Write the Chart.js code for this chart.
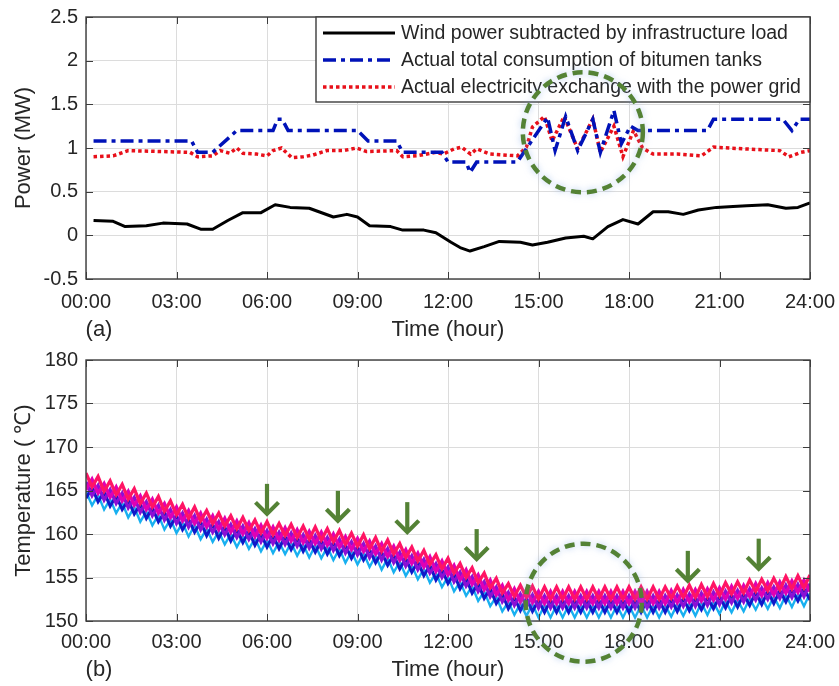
<!DOCTYPE html>
<html><head><meta charset="utf-8">
<script src="https://cdn.jsdelivr.net/npm/chart.js@4.4.1/dist/chart.umd.min.js"></script>
<style>
html,body{margin:0;padding:0;background:#fff;}
canvas{display:block;}
</style></head><body>
<canvas id="c1" width="839" height="343"></canvas>
<canvas id="c2" width="839" height="343"></canvas>
<script>
// ---------- tick labels ----------
const timeTickLabels = ['00:00','03:00','06:00','09:00','12:00','15:00','18:00','21:00','24:00'];
const seriesNames = ['Wind power subtracted by infrastructure load','Actual total consumption of bitumen tanks','Actual electricity exchange with the power grid'];

// ---------- panel (a) ----------
const windHours = [0.25,0.9,1.3,2.0,2.55,3.35,3.8,4.2,4.7,5.2,5.8,6.27,6.77,7.4,8.2,8.65,9.0,9.4,10.1,10.5,11.2,11.6,12.1,12.4,12.73,13.2,13.7,14.4,14.8,15.3,15.9,16.5,16.8,17.3,17.8,18.3,18.8,19.3,19.8,20.3,20.9,21.45,21.9,22.6,23.2,23.6,24];
const windPower = [0.17,0.16,0.10,0.11,0.14,0.13,0.07,0.07,0.17,0.26,0.26,0.35,0.32,0.31,0.21,0.24,0.21,0.11,0.10,0.06,0.06,0.03,-0.08,-0.14,-0.18,-0.13,-0.07,-0.08,-0.11,-0.08,-0.03,-0.01,-0.04,0.10,0.18,0.13,0.27,0.27,0.24,0.29,0.32,0.33,0.34,0.35,0.31,0.32,0.37];

const tankHours = [0.25,3.5,3.7,4.2,5.0,6.2,6.35,6.5,6.7,9.0,9.35,10.3,10.5,11.8,12.0,12.6,12.73,12.95,14.3,15.3,15.55,15.9,16.3,16.8,17.05,17.5,17.75,18.05,18.3,20.6,20.8,23.1,23.4,23.65,24];
const tankPower = [1.08,1.08,0.95,0.95,1.2,1.2,1.33,1.33,1.2,1.2,1.08,1.08,0.95,0.95,0.84,0.84,0.72,0.84,0.84,1.35,0.97,1.36,0.97,1.33,0.95,1.43,1.05,1.25,1.2,1.2,1.33,1.33,1.2,1.33,1.33];

const gridHours = [0.25,0.9,1.4,2.5,3.45,3.7,4.2,4.45,4.77,5.0,5.2,5.66,6.0,6.2,6.48,6.82,7.2,7.53,7.98,8.53,8.97,9.3,10.3,10.5,10.96,11.6,11.84,12.2,12.45,12.75,12.95,13.4,14.3,14.6,14.8,15.2,15.45,15.85,16.3,16.8,17.05,17.5,17.8,18.15,18.45,18.8,19.6,20.4,20.8,21.8,23.0,23.3,23.7,24];
const gridPower = [0.90,0.91,0.97,0.96,0.95,0.90,0.91,0.97,0.94,1.00,0.94,0.93,0.91,0.97,1.00,0.89,0.90,0.92,0.97,0.97,1.00,0.96,0.97,0.90,0.91,0.95,0.93,0.99,1.01,0.93,0.99,0.93,0.91,1.01,1.24,1.36,1.08,1.36,0.99,1.33,0.95,1.25,0.90,1.20,1.00,0.93,0.93,0.91,1.01,0.99,0.97,0.90,0.95,0.97];

// ---------- panel (b) ----------
const tempHours = [0,0.2,0.4,0.6,0.8,1,1.2,1.4,1.6,1.8,2,2.2,2.4,2.6,2.8,3,3.2,3.4,3.6,3.8,4,4.2,4.4,4.6,4.8,5,5.2,5.4,5.6,5.8,6,6.2,6.4,6.6,6.8,7,7.2,7.4,7.6,7.8,8,8.2,8.4,8.6,8.8,9,9.2,9.4,9.6,9.8,10,10.2,10.4,10.6,10.8,11,11.2,11.4,11.6,11.8,12,12.2,12.4,12.6,12.8,13,13.2,13.4,13.6,13.8,14,14.2,14.4,14.6,14.8,15,15.2,15.4,15.6,15.8,16,16.2,16.4,16.6,16.8,17,17.2,17.4,17.6,17.8,18,18.2,18.4,18.6,18.8,19,19.2,19.4,19.6,19.8,20,20.2,20.4,20.6,20.8,21,21.2,21.4,21.6,21.8,22,22.2,22.4,22.6,22.8,23,23.2,23.4,23.6,23.8,24];
const tempRed = [167.0,165.4,166.6,164.9,166.1,164.5,165.7,164.0,165.2,163.5,
164.7,163.1,164.3,162.6,163.8,162.2,163.4,161.8,163.1,161.5,
162.7,161.2,162.4,160.9,162.1,160.6,161.9,160.4,161.6,160.1,
161.4,159.9,161.2,159.8,161.1,159.6,160.9,159.4,160.8,159.3,
160.6,159.1,160.4,158.8,160.1,158.6,159.9,158.3,159.6,158.0,
159.3,157.7,158.9,157.3,158.5,156.9,158.1,156.5,157.6,156.0,
157.2,155.5,156.6,155.0,156.1,154.4,155.5,153.8,154.9,153.2,
154.3,152.8,154.1,152.7,154.0,152.5,153.9,152.5,153.9,152.5,
153.9,152.5,153.9,152.5,153.9,152.5,153.9,152.5,153.9,152.5,
153.9,152.5,153.9,152.5,153.9,152.5,153.9,152.6,154.0,152.7,
154.1,152.7,154.2,152.8,154.3,152.9,154.4,153.1,154.5,153.2,
154.7,153.4,154.8,153.5,154.9,153.6,155.1,153.7,155.2,153.8,
155.3];
const tempMagenta = [165.1,166.3,164.7,165.8,164.2,165.4,163.8,164.9,163.3,164.4,
162.8,164.0,162.4,163.5,161.9,163.1,161.5,162.7,161.2,162.4,
160.8,162.1,160.5,161.8,160.2,161.5,160.0,161.3,159.7,161.0,
159.5,160.8,159.3,160.7,159.2,160.5,159.0,160.3,158.9,160.2,
158.7,160.0,158.5,159.7,158.2,159.5,158.0,159.2,157.7,158.9,
157.4,158.6,157.0,158.2,156.6,157.8,156.2,157.4,155.7,156.9,
155.3,156.4,154.7,155.9,154.2,155.3,153.6,154.7,153.0,154.1,
152.4,153.7,152.2,153.6,152.1,153.4,152.0,153.4,152.0,153.4,
152.0,153.4,152.0,153.4,152.0,153.4,152.0,153.4,152.0,153.4,
152.0,153.4,152.0,153.4,152.0,153.4,152.0,153.5,152.1,153.6,
152.2,153.6,152.3,153.7,152.4,153.8,152.5,154.0,152.6,154.1,
152.8,154.3,152.9,154.4,153.0,154.5,153.2,154.6,153.3,154.7,
153.4];
const tempPurple = [166.0,164.4,165.6,163.9,165.1,163.5,164.7,163.0,164.2,162.5,
163.7,162.1,163.3,161.6,162.8,161.2,162.4,160.8,162.1,160.5,
161.7,160.2,161.4,159.9,161.1,159.6,160.9,159.4,160.6,159.1,
160.4,158.9,160.2,158.8,160.1,158.6,159.9,158.4,159.8,158.3,
159.6,158.1,159.4,157.8,159.1,157.6,158.9,157.3,158.6,157.0,
158.3,156.7,157.9,156.3,157.5,155.9,157.1,155.5,156.6,155.0,
156.2,154.5,155.6,154.0,155.1,153.4,154.5,152.8,153.9,152.2,
153.3,151.8,153.1,151.7,153.0,151.5,152.9,151.5,152.9,151.5,
152.9,151.5,152.9,151.5,152.9,151.5,152.9,151.5,152.9,151.5,
152.9,151.5,152.9,151.5,152.9,151.5,152.9,151.6,153.0,151.7,
153.1,151.7,153.2,151.8,153.3,151.9,153.4,152.1,153.5,152.2,
153.7,152.4,153.8,152.5,153.9,152.6,154.1,152.7,154.2,152.8,
154.3];
const tempBlue = [164.1,165.3,163.7,164.8,163.2,164.4,162.8,163.9,162.3,163.4,
161.8,163.0,161.4,162.5,160.9,162.1,160.5,161.7,160.2,161.4,
159.8,161.1,159.5,160.8,159.2,160.5,159.0,160.3,158.7,160.0,
158.5,159.8,158.3,159.7,158.2,159.5,158.0,159.3,157.9,159.2,
157.7,159.0,157.5,158.7,157.2,158.5,157.0,158.2,156.7,157.9,
156.4,157.6,156.0,157.2,155.6,156.8,155.2,156.4,154.7,155.9,
154.3,155.4,153.7,154.9,153.2,154.3,152.6,153.7,152.0,153.1,
151.4,152.7,151.2,152.6,151.1,152.4,151.0,152.4,151.0,152.4,
151.0,152.4,151.0,152.4,151.0,152.4,151.0,152.4,151.0,152.4,
151.0,152.4,151.0,152.4,151.0,152.4,151.0,152.5,151.1,152.6,
151.2,152.6,151.3,152.7,151.4,152.8,151.5,153.0,151.6,153.1,
151.8,153.3,151.9,153.4,152.0,153.5,152.2,153.6,152.3,153.7,
152.4];
const tempCyan = [164.9,163.3,164.5,162.8,164.0,162.4,163.6,161.9,163.1,161.4,
162.6,161.0,162.2,160.5,161.7,160.1,161.3,159.7,161.0,159.4,
160.6,159.1,160.3,158.8,160.0,158.5,159.8,158.3,159.5,158.0,
159.3,157.8,159.1,157.7,159.0,157.5,158.8,157.3,158.7,157.2,
158.5,157.0,158.3,156.7,158.0,156.5,157.8,156.2,157.5,155.9,
157.2,155.6,156.8,155.2,156.4,154.8,156.0,154.4,155.5,153.9,
155.1,153.4,154.5,152.9,154.0,152.3,153.4,151.7,152.8,151.1,
152.2,150.7,152.0,150.6,151.9,150.4,151.8,150.4,151.8,150.4,
151.8,150.4,151.8,150.4,151.8,150.4,151.8,150.4,151.8,150.4,
151.8,150.4,151.8,150.4,151.8,150.4,151.8,150.5,151.9,150.6,
152.0,150.6,152.1,150.7,152.2,150.8,152.3,151.0,152.4,151.1,
152.6,151.3,152.7,151.4,152.8,151.5,153.0,151.6,153.1,151.7,
153.2];

// ---------- annotations (data coordinates) ----------
const circleA = {hour:16.47, value:1.18};
const circleB = {hour:16.5, value:152.1};
const arrowHours = [6.0, 8.35, 10.65, 12.95, 19.95, 22.3];
const arrowTipTemps = [162.2, 161.4, 160.1, 157.0, 154.5, 155.9];

// ---------- helpers ----------
const FONT = "'Liberation Sans', Arial, Helvetica, sans-serif";
const TXT = '#262626';
const GREEN = '#548235';
Chart.defaults.font.family = FONT;
Chart.defaults.color = TXT;
function pts(xs, ys){ return xs.map((x,i)=>({x:x, y:ys[i]})); }

const panelPlugin = {
  id:'panel',
  beforeDraw(chart){
    const c = chart.ctx; c.save(); c.fillStyle='#fff'; c.fillRect(0,0,chart.width,chart.height); c.restore();
  },
  afterDatasetsDraw(chart, args, o){
    const {ctx, chartArea:a, scales:{x, y}} = chart;
    ctx.save();
    ctx.strokeStyle = '#3c3c3c'; ctx.lineWidth = 1;
    ctx.beginPath();
    x.ticks.forEach(t=>{ const p = Math.round(x.getPixelForValue(t.value))+0.5;
      ctx.moveTo(p,a.bottom); ctx.lineTo(p,a.bottom-7); ctx.moveTo(p,a.top); ctx.lineTo(p,a.top+7); });
    y.ticks.forEach(t=>{ const p = Math.round(y.getPixelForValue(t.value))+0.5;
      ctx.moveTo(a.left,p); ctx.lineTo(a.left+7,p); ctx.moveTo(a.right,p); ctx.lineTo(a.right-7,p); });
    ctx.stroke();
    ctx.lineWidth = 1.4;
    ctx.strokeRect(a.left, a.top, a.right-a.left, a.bottom-a.top);
    if (o.legend){
      const w = o.legend.width, h = o.legend.height;
      const x0 = a.right - w, y0 = a.top;
      ctx.fillStyle = '#fff'; ctx.fillRect(x0, y0, w, h);
      ctx.strokeStyle = '#3c3c3c'; ctx.lineWidth = 1.4; ctx.strokeRect(x0, y0, w, h);
      chart.data.datasets.forEach((ds,i)=>{
        const cy = y0 + 16 + i*27;
        ctx.beginPath(); ctx.setLineDash(ds.borderDash || []);
        ctx.strokeStyle = ds.borderColor; ctx.lineWidth = ds.borderWidth;
        ctx.moveTo(x0+7, cy); ctx.lineTo(x0+79, cy); ctx.stroke();
        ctx.setLineDash([]);
        ctx.fillStyle = TXT; ctx.font = '19.5px ' + FONT; ctx.textBaseline = 'middle'; ctx.textAlign = 'left';
        ctx.fillText(ds.label, x0+85, cy+1);
      });
    }
    ctx.restore();
  },
  afterDraw(chart, args, o){
    const {ctx, scales:{x, y}} = chart;
    ctx.save();
    if (o.circle){
      const cx = x.getPixelForValue(o.circle.hour), cy = y.getPixelForValue(o.circle.value);
      ctx.shadowColor = 'rgba(130,170,230,0.6)'; ctx.shadowBlur = 7;
      ctx.strokeStyle = GREEN; ctx.lineWidth = 4.5; ctx.setLineDash([10,6]);
      ctx.beginPath(); ctx.ellipse(cx, cy, o.circle.rx, o.circle.ry, 0, 0, Math.PI*2); ctx.stroke();
      ctx.setLineDash([]); ctx.shadowBlur = 0; ctx.shadowColor = 'transparent';
    }
    if (o.arrows){
      ctx.strokeStyle = GREEN; ctx.lineWidth = 4.2; ctx.lineJoin = 'miter'; ctx.lineCap = 'butt';
      o.arrows.hours.forEach((h,i)=>{
        const px = x.getPixelForValue(h), tip = y.getPixelForValue(o.arrows.tips[i]);
        ctx.beginPath(); ctx.moveTo(px, tip-31); ctx.lineTo(px, tip-2); ctx.stroke();
        ctx.beginPath(); ctx.moveTo(px-11.5, tip-12.5); ctx.lineTo(px, tip-1); ctx.lineTo(px+11.5, tip-12.5); ctx.stroke();
      });
    }
    if (o.tag){
      ctx.fillStyle = TXT; ctx.font = '22px ' + FONT; ctx.textAlign = 'center'; ctx.textBaseline = 'middle';
      ctx.fillText(o.tag.text, o.tag.x, o.tag.y);
    }
    ctx.restore();
  }
};

function timeAxis(axisHeight, tickGap, titlePad){
  return {
    type:'linear', min:0, max:24,
    ticks:{ stepSize:3, autoSkip:false, maxRotation:0, padding:0, font:{size:20},
            callback:(v)=>timeTickLabels[Math.round(v/3)] },
    grid:{ color:'#dcdcdc', lineWidth:1, drawTicks:true, tickLength:tickGap, tickColor:'rgba(0,0,0,0)' },
    border:{ display:false },
    title:{ display:true, text:'Time (hour)', font:{size:22}, padding:{top:0, bottom:titlePad} },
    afterFit(s){ s.height = axisHeight; }
  };
}
function valueAxis(min, max, step, title){
  return {
    min:min, max:max,
    ticks:{ stepSize:step, padding:0, font:{size:20},
            callback:(v)=>String(Math.round(v*10)/10) },
    grid:{ color:'#dcdcdc', lineWidth:1, drawTicks:true, tickLength:8, tickColor:'rgba(0,0,0,0)' },
    border:{ display:false },
    title:{ display:true, text:title, font:{size:22}, padding:{top:11, bottom:0} },
    afterFit(s){ s.width = 86; }
  };
}

new Chart(document.getElementById('c1'), {
  type:'line',
  data:{ datasets:[
    { label:seriesNames[0], data:pts(windHours, windPower), borderColor:'#000000', borderWidth:3, pointRadius:0, tension:0, borderJoinStyle:'round' },
    { label:seriesNames[1], data:pts(tankHours, tankPower), borderColor:'#0012b8', borderWidth:3.5, borderDash:[13,5,4,5], pointRadius:0, tension:0 },
    { label:seriesNames[2], data:pts(gridHours, gridPower), borderColor:'#e8101a', borderWidth:3.5, borderDash:[3.5,3], pointRadius:0, tension:0 }
  ]},
  options:{
    responsive:false, animation:false, devicePixelRatio:1,
    layout:{ padding:{ left:0, right:29, top:17, bottom:0 } },
    plugins:{ legend:{display:false}, tooltip:{enabled:false},
      panel:{ legend:{width:494, height:85}, circle:{hour:circleA.hour, value:circleA.value, rx:60, ry:60}, tag:{text:'(a)', x:99, y:330} } },
    scales:{ x: timeAxis(64, 11, 0), y: valueAxis(-0.5, 2.5, 0.5, 'Power (MW)') }
  },
  plugins:[panelPlugin]
});

const tempSeries = [
  {name:'Tank 1', values:tempRed, color:'#ff1464', width:3.3},
  {name:'Tank 2', values:tempMagenta, color:'#e000b4', width:3.3},
  {name:'Tank 3', values:tempPurple, color:'#8c10d4', width:3.2},
  {name:'Tank 4', values:tempBlue, color:'#1018c8', width:3},
  {name:'Tank 5', values:tempCyan, color:'#18b0f0', width:2.4}
];
new Chart(document.getElementById('c2'), {
  type:'line',
  data:{ datasets: tempSeries.map(s=>({ label:s.name, data:pts(tempHours, s.values), borderColor:s.color, borderWidth:s.width, pointRadius:0, tension:0 })) },
  options:{
    responsive:false, animation:false, devicePixelRatio:1,
    layout:{ padding:{ left:0, right:29, top:17, bottom:0 } },
    plugins:{ legend:{display:false}, tooltip:{enabled:false},
      panel:{ circle:{hour:circleB.hour, value:circleB.value, rx:58, ry:59},
              arrows:{hours:arrowHours, tips:arrowTipTemps}, tag:{text:'(b)', x:99, y:327} } },
    scales:{ x: timeAxis(65, 9, 3), y: valueAxis(150, 180, 5, 'Temperature ( \u2103)') }
  },
  plugins:[panelPlugin]
});
</script>
</body></html>
